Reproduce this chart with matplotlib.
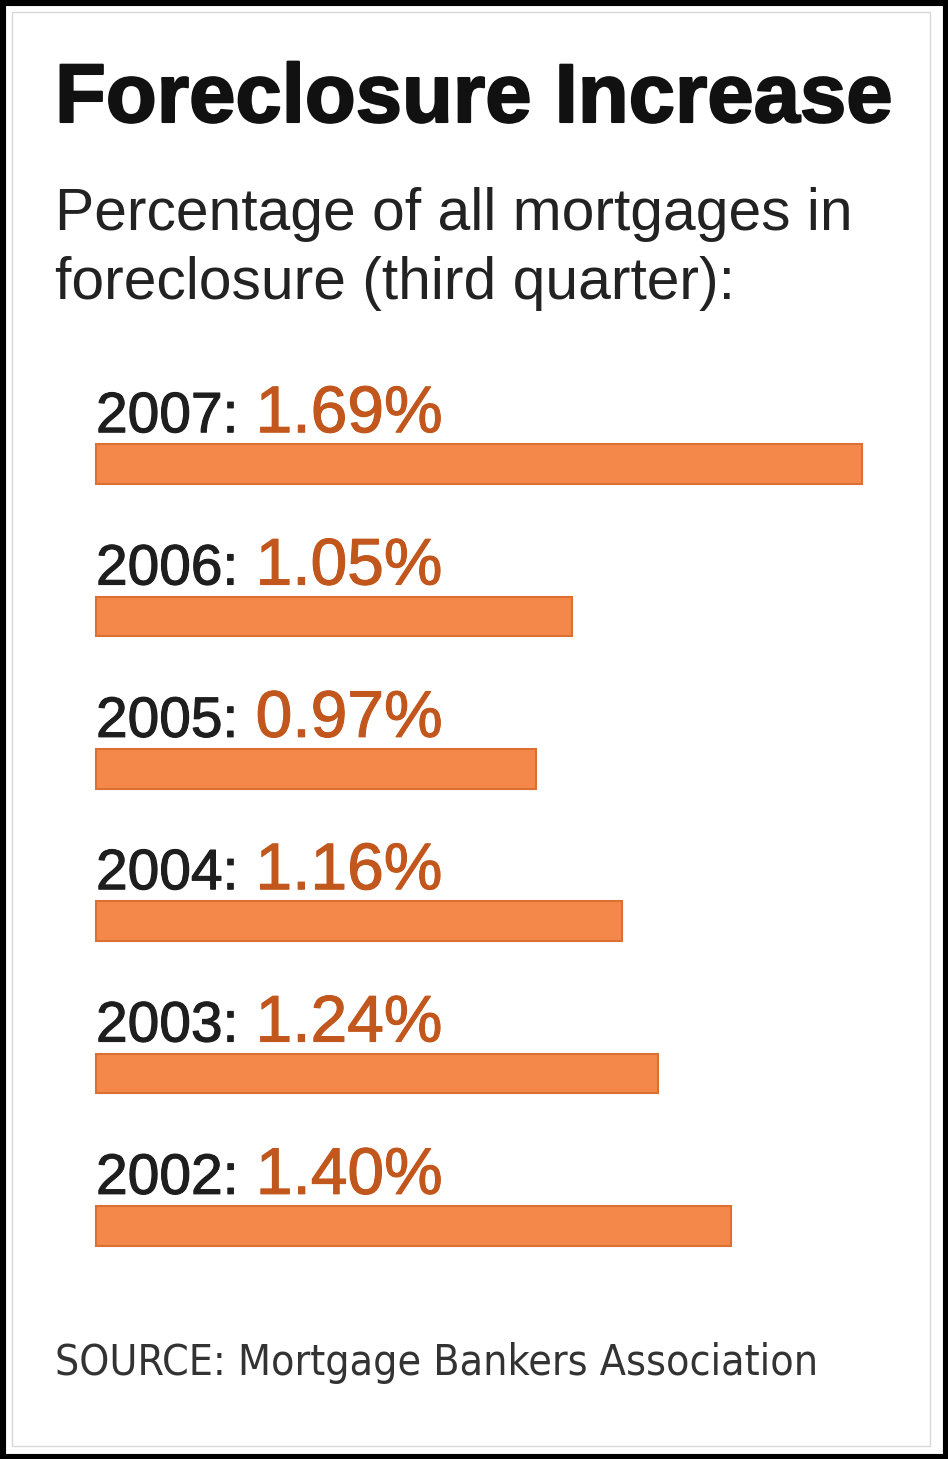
import matplotlib
matplotlib.use("Agg")
import matplotlib.pyplot as plt
from matplotlib.patches import Rectangle
from matplotlib.transforms import offset_copy
import matplotlib.patheffects as pe

# data
years = ["2007", "2006", "2005", "2004", "2003", "2002"]
rates = [1.69, 1.05, 0.97, 1.16, 1.24, 1.40]

title = "Foreclosure Increase"
subtitle = ["Percentage of all mortgages in", "foreclosure (third quarter):"]
source = "SOURCE: Mortgage Bankers Association"

W, H = 948, 1459
fig = plt.figure(figsize=(W / 100, H / 100), dpi=100)
fig.patch.set_facecolor("white")
renderer = fig.canvas.get_renderer()


def fx(px):
    return px / W


def fy(px):
    return 1 - px / H


def fit(t, target_px):
    # scale font so text spans the target width in pixels
    w = t.get_window_extent(renderer).width
    t.set_fontsize(t.get_fontsize() * target_px / w)
    return t.get_window_extent(renderer).width


# frame
fig.add_artist(Rectangle((0, 0), 1, 1, transform=fig.transFigure, fill=False,
                         edgecolor="black", linewidth=8))
fig.add_artist(Rectangle((fx(12), fy(1446)), fx(930) - fx(12), (1446 - 12) / H,
                         transform=fig.transFigure, fill=False,
                         edgecolor="#d8d8d8", linewidth=1))

# title + subtitle
t = fig.text(fx(55), fy(122), title, fontsize=50, fontweight="bold",
             family="Liberation Sans", color="#111111", va="baseline",
             path_effects=[pe.withStroke(linewidth=1.5, foreground="#111111")])
fit(t, 838)
s1 = fig.text(fx(55), fy(230), subtitle[0], fontsize=36, family="Liberation Sans",
              color="#222222", va="baseline")
fit(s1, 798)
fig.text(fx(55), fy(299), subtitle[1], fontsize=s1.get_fontsize(),
         family="Liberation Sans", color="#222222", va="baseline")

# bars
ax = fig.add_axes([fx(96), fy(1302), (862 - 96) / W, (1302 - 388) / H])
ax.set_xlim(0, max(rates))
ax.set_ylim(len(years) - 0.5, -0.5)
ax.axis("off")

ypos = list(range(len(years)))
ax.barh(ypos, rates, height=0.26, color="#f4884a", edgecolor="#dc7033",
        linewidth=1.5, clip_on=False)

for i, (yr, r) in enumerate(zip(years, rates)):
    lab = ax.text(0, i - 0.21, yr + ":", fontsize=40, family="Liberation Sans",
                  color="#1e1e1e", va="baseline", ha="left",
                  path_effects=[pe.withStroke(linewidth=0.8, foreground="#1e1e1e")])
    w = fit(lab, 142)
    tr = offset_copy(ax.transData, fig=fig, x=w + 17, y=0, units="dots")
    pct = ax.text(0, i - 0.21, f"{r:.2f}%", transform=tr,
                  fontsize=48, family="Liberation Sans", color="#c2571d",
                  va="baseline", ha="left",
                  path_effects=[pe.withStroke(linewidth=0.8, foreground="#c2571d")])
    fit(pct, 187)

# source
src = fig.text(fx(55), fy(1375), source, fontsize=40,
               family="DejaVu Sans", fontstretch="condensed",
               color="#333333", va="baseline")
fit(src, 763)

fig.savefig("out.png", dpi=100, facecolor="white")
